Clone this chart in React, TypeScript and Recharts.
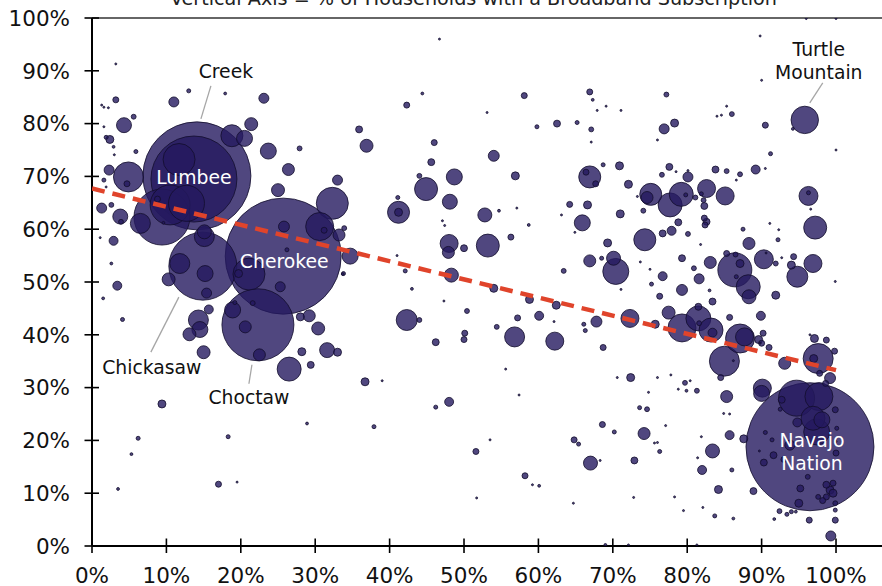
import React from 'react';
import { ScatterChart, Scatter, XAxis, YAxis, ZAxis, ReferenceLine } from 'recharts';

// Named tribal areas (horizontal share %, broadband %, relative household count)
const tribeNames = ['Navajo Nation', 'Cherokee', 'Creek', 'Lumbee', 'Choctaw', 'Chickasaw', 'Turtle Mountain'];
const tribeX = [96.5, 25.7, 14.1, 13.7, 22.3, 14.9, 95.8];
const tribeY = [18.8, 54.9, 70.1, 69.5, 41.9, 53.0, 80.7];
const tribeHouseholds = [4096, 3364, 2916, 1849, 1296, 1156, 188];

// All other areas: [horizontal %, broadband %, relative household count]
const otherAreas: [number, number, number][] = [
  [3.2, 91.3, 1], [3.2, 84.5, 9], [1.3, 83.5, 1], [1.6, 83.1, 1], [2.2, 83.0, 1], [5.6, 81.3, 6],
  [4.3, 79.7, 56], [11.0, 84.1, 25], [13.0, 86.2, 4], [17.9, 85.7, 2], [23.1, 84.8, 25], [21.4, 79.9, 42],
  [1.6, 79.4, 1], [18.8, 77.7, 121], [20.5, 77.2, 64], [35.9, 78.9, 12], [36.9, 75.8, 42], [23.7, 74.8, 64],
  [27.9, 75.3, 6], [1.9, 77.4, 4], [2.4, 77.0, 16], [2.9, 75.6, 2], [3.0, 74.1, 1], [5.9, 74.7, 4],
  [2.3, 71.2, 25], [4.9, 69.9, 225], [4.7, 68.6, 9], [1.6, 69.3, 4], [1.9, 68.0, 1], [2.6, 64.6, 6],
  [1.3, 64.0, 25], [3.8, 62.4, 56], [3.9, 61.4, 6], [6.5, 61.1, 100], [2.9, 57.8, 20], [1.1, 58.4, 1],
  [2.6, 53.5, 2], [3.4, 49.3, 20], [1.5, 46.9, 2], [4.1, 42.9, 4], [9.4, 62.3, 784], [10.5, 64.6, 400],
  [8.8, 65.7, 9], [9.6, 61.2, 2], [11.7, 73.2, 256], [12.7, 64.9, 324], [15.1, 58.6, 100], [15.1, 59.5, 49],
  [11.8, 53.5, 100], [15.2, 51.6, 64], [15.4, 47.9, 25], [10.3, 50.5, 42],
  [32.3, 64.9, 256], [30.6, 60.5, 196], [31.2, 59.8, 9], [25.8, 60.5, 30], [25.0, 67.4, 42], [26.4, 71.3, 36],
  [33.0, 69.3, 25], [33.9, 60.2, 6], [34.7, 54.9, 64], [33.2, 58.9, 36], [21.1, 51.5, 256], [19.7, 51.6, 16],
  [25.3, 49.1, 25], [26.2, 56.1, 4], [33.8, 51.6, 4], [28.0, 43.4, 16], [29.2, 43.6, 36], [30.4, 41.2, 42],
  [20.6, 41.5, 36], [22.5, 36.2, 36], [18.9, 44.7, 64], [21.6, 46.0, 6], [19.2, 46.1, 4], [14.3, 42.8, 100],
  [14.5, 41.0, 64], [13.1, 40.1, 42], [15.7, 44.8, 20], [15.0, 36.7, 42], [28.2, 36.8, 16], [31.6, 37.1, 56],
  [33.0, 36.7, 16], [26.5, 33.5, 144], [29.4, 34.3, 12], [36.7, 31.1, 16], [39.0, 31.3, 1], [9.4, 26.9, 16],
  [6.2, 20.4, 4], [5.3, 17.4, 2], [3.5, 10.8, 2], [18.3, 20.7, 4], [17.0, 11.7, 9], [19.5, 12.1, 1],
  [28.9, 23.2, 2], [37.9, 22.6, 4],
  [46.7, 96.0, 1], [44.4, 85.7, 2], [42.3, 83.5, 9], [53.1, 82.1, 1], [58.1, 85.3, 9], [59.8, 79.4, 4],
  [62.5, 80.0, 12], [65.2, 80.2, 4], [46.0, 76.4, 9], [45.6, 72.7, 12], [54.0, 73.9, 30], [48.7, 69.9, 64],
  [44.0, 70.1, 6], [56.9, 70.1, 16], [44.9, 67.6, 132], [41.2, 63.2, 121], [41.2, 63.2, 16], [41.1, 66.0, 4],
  [48.1, 65.2, 56], [52.8, 62.7, 49], [54.7, 63.5, 2], [57.1, 64.0, 1], [64.2, 64.7, 9], [58.7, 60.8, 2],
  [47.1, 61.6, 1], [47.4, 60.7, 1], [48.0, 57.3, 81], [47.9, 55.6, 36], [50.0, 56.4, 12], [53.2, 56.9, 132],
  [56.3, 58.5, 9], [63.4, 52.1, 6], [64.9, 59.4, 1], [41.0, 55.0, 1], [42.1, 52.1, 4], [48.3, 51.3, 49],
  [33.7, 51.5, 2], [43.0, 48.7, 2], [54.0, 48.8, 16], [47.3, 46.4, 1], [50.4, 44.5, 6], [58.8, 46.7, 16],
  [62.4, 45.6, 16], [42.3, 42.8, 110], [44.0, 42.8, 6], [57.2, 43.2, 9], [60.1, 43.6, 20], [62.1, 42.5, 1],
  [54.4, 41.5, 6], [50.1, 40.3, 9], [50.0, 39.1, 9], [46.2, 38.6, 12], [56.8, 39.6, 100], [62.2, 38.8, 81],
  [55.6, 33.5, 1], [57.4, 28.6, 1], [48.0, 27.3, 20], [46.2, 26.3, 4], [53.5, 20.1, 1], [51.6, 17.9, 9],
  [64.8, 20.1, 9], [65.4, 19.3, 4], [58.2, 13.3, 9], [59.2, 11.6, 1], [60.1, 11.4, 2], [51.7, 9.1, 1],
  [64.7, 8.1, 1], [65.9, 61.2, 64],
  [89.8, 96.6, 1], [90.0, 88.2, 1], [96.0, 99.9, 1], [100.0, 99.9, 1], [94.2, 79.0, 2], [90.5, 79.7, 9],
  [100.0, 75.0, 1], [91.2, 74.3, 4], [66.9, 86.0, 9], [67.3, 84.5, 2], [67.9, 82.5, 1], [69.1, 83.3, 1],
  [71.1, 82.5, 1], [77.2, 85.5, 6], [67.1, 78.9, 6], [67.1, 76.5, 1], [76.9, 79.0, 25], [78.3, 80.1, 16],
  [76.0, 76.9, 1], [84.0, 81.4, 1], [84.6, 81.6, 1], [85.3, 83.3, 1], [86.0, 81.8, 6], [66.9, 69.9, 121],
  [66.4, 70.8, 9], [67.7, 68.6, 9], [68.7, 72.2, 4], [70.9, 72.0, 16], [72.1, 68.5, 16], [66.6, 64.6, 16],
  [71.0, 62.9, 16], [69.3, 57.4, 16], [66.9, 54.0, 36], [68.5, 54.5, 4], [70.1, 54.5, 49], [70.4, 52.0, 169],
  [71.1, 48.6, 1], [74.3, 58.0, 121], [77.6, 71.8, 12], [76.6, 70.3, 6], [78.5, 70.9, 1], [80.1, 69.9, 25],
  [80.1, 71.1, 1], [83.8, 71.3, 12], [85.3, 71.0, 6], [87.1, 70.4, 6], [89.2, 71.3, 20], [90.5, 71.5, 1],
  [86.6, 69.3, 1], [75.1, 66.6, 121], [74.6, 66.0, 36], [73.3, 66.2, 1], [77.7, 64.6, 144], [79.2, 66.6, 144],
  [79.8, 66.5, 4], [82.6, 67.7, 81], [81.1, 66.0, 6], [81.9, 66.7, 4], [85.1, 66.3, 81], [82.2, 65.5, 6],
  [82.3, 64.4, 12], [74.1, 63.5, 6], [82.3, 62.1, 9], [82.6, 61.4, 12], [82.4, 60.8, 9], [78.8, 61.3, 12],
  [77.9, 59.7, 20], [76.7, 59.2, 12], [80.1, 59.1, 6], [81.8, 57.1, 1], [73.7, 53.8, 1], [75.0, 52.4, 1],
  [75.2, 49.6, 4], [76.7, 51.1, 20], [76.3, 47.3, 9], [79.3, 48.5, 30], [79.3, 54.5, 12], [80.9, 52.6, 6],
  [81.6, 50.6, 25], [83.0, 48.4, 2], [83.1, 53.7, 36], [86.4, 52.3, 289], [85.3, 55.4, 9], [86.5, 55.2, 6],
  [86.6, 51.0, 4], [87.1, 53.5, 16], [88.2, 49.1, 144], [88.3, 47.2, 49], [88.3, 57.3, 36], [87.5, 60.0, 4],
  [90.3, 54.3, 90], [90.6, 55.5, 1], [91.9, 53.5, 6], [91.9, 47.5, 16], [92.7, 54.6, 1], [91.1, 61.1, 1],
  [92.2, 58.0, 4], [92.3, 59.9, 1], [94.3, 54.8, 9], [94.0, 53.2, 16], [94.8, 51.0, 110], [96.9, 53.5, 81],
  [96.3, 66.3, 90], [96.3, 66.9, 4], [97.2, 60.3, 132], [96.6, 63.8, 1], [99.9, 50.1, 1], [63.1, 62.7, 1],
  [67.8, 42.5, 30], [66.1, 42.0, 4], [66.3, 40.8, 4], [72.3, 43.1, 81], [75.7, 42.0, 16], [77.5, 44.2, 42],
  [79.3, 41.3, 196], [81.5, 43.1, 156], [81.5, 45.3, 12], [81.6, 42.2, 6], [83.2, 40.9, 144], [83.4, 40.4, 20],
  [83.4, 46.3, 12], [85.7, 43.3, 9], [87.1, 39.3, 210], [87.7, 39.6, 81], [89.9, 43.6, 20], [90.2, 40.3, 9],
  [89.6, 39.1, 16], [91.0, 37.6, 9], [90.0, 38.4, 9], [85.0, 35.0, 225], [84.5, 31.9, 9], [86.2, 35.1, 1],
  [85.3, 28.3, 36], [85.7, 21.0, 20], [84.9, 25.1, 1], [85.7, 25.0, 1], [87.6, 20.3, 16], [83.4, 18.0, 49],
  [81.9, 20.7, 1], [81.4, 16.7, 1], [82.0, 14.4, 20], [84.2, 10.7, 16], [86.0, 14.4, 4], [86.2, 5.2, 2],
  [83.7, 5.7, 4], [82.1, 7.3, 1], [88.9, 10.4, 12], [89.7, 18.0, 1], [90.5, 21.5, 4], [91.4, 20.1, 4],
  [81.3, 29.4, 6], [79.9, 29.4, 2], [79.7, 30.9, 6], [80.4, 31.3, 1], [78.8, 29.7, 1], [77.8, 32.4, 1],
  [76.0, 31.9, 1], [72.4, 31.9, 16], [70.6, 31.9, 1], [68.7, 37.6, 9], [68.6, 23.0, 9], [70.2, 21.6, 4],
  [74.2, 21.3, 36], [73.6, 26.2, 4], [74.6, 25.9, 6], [74.8, 29.1, 1], [77.1, 22.8, 1], [75.6, 19.5, 1],
  [76.0, 19.6, 1], [76.3, 17.9, 4], [72.9, 16.2, 12], [67.0, 15.7, 49], [68.3, 16.2, 1], [72.8, 9.2, 1],
  [78.3, 9.3, 1], [79.5, 6.7, 1], [69.0, 0.2, 2], [72.1, 0.2, 1], [81.3, 0.2, 1],
  [94.7, 28.0, 324], [97.7, 28.3, 196], [96.9, 24.2, 144], [98.1, 23.9, 64], [97.4, 21.6, 169], [90.0, 28.9, 64],
  [90.1, 29.9, 81], [94.8, 23.4, 20], [93.8, 19.1, 25], [90.3, 15.8, 12], [91.6, 17.2, 12], [93.0, 16.4, 9],
  [92.7, 27.7, 12], [92.5, 25.9, 4], [96.2, 13.1, 6], [95.2, 10.9, 12], [95.0, 8.1, 16], [98.7, 11.6, 12],
  [99.2, 10.6, 16], [99.6, 10.0, 16], [98.7, 9.3, 9], [99.9, 8.1, 6], [97.6, 9.3, 6], [98.2, 8.6, 9],
  [99.9, 6.8, 4], [99.6, 11.9, 9], [99.9, 4.9, 9], [99.3, 1.9, 25], [96.4, 4.9, 9], [92.4, 6.6, 6],
  [93.4, 6.0, 4], [94.0, 6.5, 4], [94.6, 6.5, 2], [91.7, 5.1, 2], [99.9, 25.8, 9], [100.0, 17.6, 9],
  [100.0, 19.8, 1], [100.1, 22.3, 4], [98.6, 30.8, 9], [99.2, 31.8, 30], [97.8, 32.7, 9], [99.8, 36.9, 9],
  [97.6, 35.5, 225], [97.0, 35.5, 16], [93.1, 34.6, 36], [98.7, 39.0, 9], [97.1, 39.3, 16], [96.5, 40.0, 1],
  [89.8, 38.4, 1],
];

// Linear trend (endpoints at 0% and 100%)
const trendX = [0, 100];
const trendY = [67.7, 33.3];

const tickValues = [0, 10, 20, 30, 40, 50, 60, 70, 80, 90, 100];
const tickLabels = tickValues.map((v) => `${v}%`);

const titleText = 'Vertical Axis = % of Households with a Broadband Subscription';

type Pt = { x: number; y: number; z: number; name?: string };

const tribes: Pt[] = tribeNames.map((name, i) => ({ name, x: tribeX[i], y: tribeY[i], z: tribeHouseholds[i] }));
const bubbles: Pt[] = [...tribes, ...otherAreas.map(([x, y, z]) => ({ x, y, z }))].sort((a, b) => b.z - a.z);
const trendData = trendX.map((x, i) => ({ x, y: trendY[i], z: 0 }));

// Label placement for the named bubbles, relative to each bubble's centre
const labelStyle: Record<string, { lines: string[]; dx: number; dy: number; color: string; leader?: number[] }> = {
  'Navajo Nation': { lines: ['Navajo', 'Nation'], dx: 2, dy: -7, color: '#ffffff' },
  Cherokee: { lines: ['Cherokee'], dx: 1, dy: 5, color: '#ffffff' },
  Creek: { lines: ['Creek'], dx: 29, dy: -105, color: '#111111', leader: [14, -90, 4, -57] },
  Lumbee: { lines: ['Lumbee'], dx: 0, dy: -2, color: '#ffffff' },
  Choctaw: { lines: ['Choctaw'], dx: -9, dy: 72, color: '#111111', leader: [-6, 40, -9, 59] },
  Chickasaw: { lines: ['Chickasaw'], dx: -51, dy: 101, color: '#111111', leader: [-52, 86, -24, 31] },
  'Turtle Mountain': { lines: ['Turtle', 'Mountain'], dx: 14, dy: -71, color: '#111111', leader: [18, -37, 5, -17] },
};

const FONT = '"DejaVu Sans", Verdana, sans-serif';
const BUBBLE_FILL = '#24195F';
const BUBBLE_STROKE = '#120d2c';

const Bubble = (props: any) => {
  const { cx, cy } = props;
  if (cx == null || cy == null) return <g />;
  const r = props.size != null ? Math.sqrt(props.size / Math.PI) : (props.width || 2) / 2;
  return (
    <circle
      cx={cx}
      cy={cy}
      r={Math.max(r, 0.9)}
      fill={BUBBLE_FILL}
      fillOpacity={0.8}
      stroke={BUBBLE_STROKE}
      strokeOpacity={0.9}
      strokeWidth={0.9}
    />
  );
};

const TribeLabel = (props: any) => {
  const { cx, cy, payload } = props;
  const st = payload && labelStyle[payload.name];
  if (!st || cx == null) return <g />;
  return (
    <g>
      {st.leader && (
        <line
          x1={cx + st.leader[0]}
          y1={cy + st.leader[1]}
          x2={cx + st.leader[2]}
          y2={cy + st.leader[3]}
          stroke="#a6a6a6"
          strokeWidth={1.3}
        />
      )}
      {st.lines.map((t, i) => (
        <text
          key={t}
          x={cx + st.dx}
          y={cy + st.dy + i * 23}
          dy="0.36em"
          textAnchor="middle"
          fill={st.color}
          fontSize={18.8}
          fontFamily={FONT}
        >
          {t}
        </text>
      ))}
    </g>
  );
};

const YTick = (props: any) => {
  const { x, y, payload } = props;
  return (
    <g>
      <line x1={x - 7.5} x2={x + 7} y1={y} y2={y} stroke="#000" strokeWidth={1.6} />
      <text x={x - 22} y={y} dy="0.36em" textAnchor="end" fontSize={21.5} fontFamily={FONT} fill="#111">
        {tickLabels[tickValues.indexOf(payload.value)]}
      </text>
    </g>
  );
};

const XTick = (props: any) => {
  const { x, y, payload } = props;
  return (
    <g>
      <line x1={x} x2={x} y1={y - 7.5} y2={y + 7} stroke="#000" strokeWidth={1.6} />
      <text x={x} y={y + 37} textAnchor="middle" fontSize={21.5} fontFamily={FONT} fill="#111">
        {tickLabels[tickValues.indexOf(payload.value)]}
      </text>
    </g>
  );
};

export default function App() {
  return (
    <div
      style={{
        position: 'absolute',
        left: 0,
        top: 0,
        width: 882,
        height: 586,
        overflow: 'hidden',
        background: '#ffffff',
        fontFamily: FONT,
      }}
    >
      <svg width={882} height={30} style={{ position: 'absolute', left: 0, top: 0 }}>
        <text
          x={170}
          y={5}
          fontSize={19}
          fontFamily='"DejaVu Sans Condensed", "DejaVu Sans", sans-serif'
          fill="#222"
          textLength={607}
          lengthAdjust="spacingAndGlyphs"
        >
          {titleText}
        </text>
      </svg>
      <div style={{ position: 'absolute', left: 0, top: 0 }}>
        <ScatterChart width={882} height={586} margin={{ top: 18, right: 0, bottom: 0, left: 0 }}>
          <XAxis
            type="number"
            dataKey="x"
            domain={[0, 106.18]}
            ticks={tickValues}
            interval={0}
            allowDataOverflow
            height={40}
            tickSize={0}
            tickMargin={0}
            tickLine={false}
            axisLine={{ stroke: '#000', strokeWidth: 2 }}
            tick={<XTick />}
          />
          <YAxis
            type="number"
            dataKey="y"
            domain={[0, 100]}
            ticks={tickValues}
            interval={0}
            allowDataOverflow
            width={92}
            tickSize={0}
            tickMargin={0}
            tickLine={false}
            axisLine={{ stroke: '#000', strokeWidth: 2 }}
            tick={<YTick />}
          />
          <ZAxis type="number" dataKey="z" domain={[0, 4096]} range={[0, Math.PI * 4096]} />
          <ReferenceLine y={100} stroke="#333" strokeWidth={1.5} ifOverflow="extendDomain" />
          <Scatter data={bubbles} shape={<Bubble />} isAnimationActive={false} />
          <Scatter
            data={trendData}
            line={{ stroke: '#E0442B', strokeWidth: 4.5, strokeDasharray: '13 8' }}
            lineType="joint"
            shape={() => <g />}
            isAnimationActive={false}
          />
          <Scatter data={tribes} shape={<TribeLabel />} isAnimationActive={false} />
        </ScatterChart>
      </div>
    </div>
  );
}
